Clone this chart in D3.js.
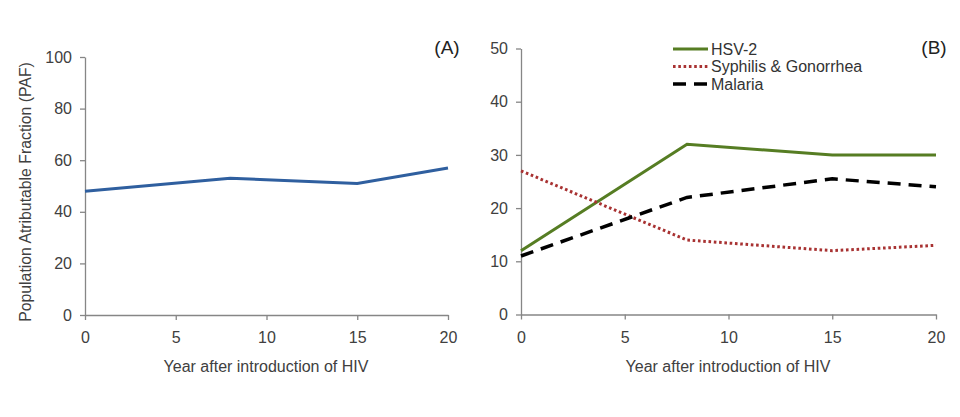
<!DOCTYPE html>
<html><head><meta charset="utf-8">
<script src="https://cdn.jsdelivr.net/npm/d3@7"></script>
<style>
body{margin:0;background:#fff;}
text{font-family:"Liberation Sans",Arial,sans-serif;}
</style></head>
<body><svg id="c" width="960" height="417"></svg>
<script>
const years = [0, 8, 15, 20];
const pafA = [48, 53, 51, 57];
const hsv2 = [12, 32, 30, 30];
const syphGon = [27, 14, 12, 13];
const malaria = [11, 22, 25.5, 24];
const xTicks = [0, 5, 10, 15, 20];
const yTicksA = [0, 20, 40, 60, 80, 100];
const yTicksB = [0, 10, 20, 30, 40, 50];
const seriesNames = ["HSV-2", "Syphilis & Gonorrhea", "Malaria"];

const svg = d3.select("#c");
const axisColor = "#868686", textColor = "#404040";

function panel(x0, x1, yTop, yBot, yMax, yTicks) {
  const x = d3.scaleLinear().domain([0, 20]).range([x0, x1]);
  const y = d3.scaleLinear().domain([0, yMax]).range([yBot, yTop]);
  const gx = svg.append("g").attr("transform", `translate(0,${yBot})`)
    .call(d3.axisBottom(x).tickValues(xTicks).tickSize(5).tickSizeOuter(0).tickPadding(12));
  const gy = svg.append("g").attr("transform", `translate(${x0},0)`)
    .call(d3.axisLeft(y).tickValues(yTicks).tickSize(5).tickSizeOuter(0).tickPadding(8));
  [gx, gy].forEach(g => {
    g.selectAll("path,line").attr("stroke", axisColor).attr("stroke-width", 1.3);
    g.selectAll("text").attr("fill", textColor).style("font-size", "16px");
  });
  return {x, y};
}

// Panel A
const A = panel(85, 448, 57, 315, 100, yTicksA);
svg.append("path").datum(years.map((d, i) => [d, pafA[i]]))
  .attr("fill", "none").attr("stroke", "#2F5F9F").attr("stroke-width", 3)
  .attr("d", d3.line().x(d => A.x(d[0])).y(d => A.y(d[1])));
svg.append("text").attr("x", 266).attr("y", 372).attr("text-anchor", "middle")
  .attr("fill", textColor).style("font-size", "16px").text("Year after introduction of HIV");
svg.append("text").attr("transform", "translate(31,192) rotate(-90)").attr("text-anchor", "middle")
  .attr("fill", textColor).style("font-size", "15.8px").text("Population Atributable Fraction (PAF)");
svg.append("text").attr("x", 447).attr("y", 54).attr("text-anchor", "middle")
  .attr("fill", "#222").style("font-size", "19px").text("(A)");

// Panel B
const B = panel(521, 936, 48.5, 314.5, 50, yTicksB);
const styles = [
  {data: hsv2, color: "#567D23", w: 3, dash: null},
  {data: syphGon, color: "#A83232", w: 3, dash: "2.6,2.7"},
  {data: malaria, color: "#000", w: 3.5, dash: "13,8"}
];
styles.forEach(s => {
  svg.append("path").datum(years.map((d, i) => [d, s.data[i]]))
    .attr("fill", "none").attr("stroke", s.color).attr("stroke-width", s.w)
    .attr("stroke-dasharray", s.dash)
    .attr("d", d3.line().x(d => B.x(d[0])).y(d => B.y(d[1])));
});
svg.append("text").attr("x", 728).attr("y", 372).attr("text-anchor", "middle")
  .attr("fill", textColor).style("font-size", "16px").text("Year after introduction of HIV");
svg.append("text").attr("x", 934).attr("y", 54).attr("text-anchor", "middle")
  .attr("fill", "#222").style("font-size", "19px").text("(B)");

// Legend
const legY = [49, 66.5, 84];
styles.forEach((s, i) => {
  svg.append("line").attr("x1", 673).attr("x2", 708).attr("y1", legY[i]).attr("y2", legY[i])
    .attr("stroke", s.color).attr("stroke-width", s.w).attr("stroke-dasharray", s.dash);
  svg.append("text").attr("x", 711).attr("y", legY[i] + 5.5).attr("fill", "#333")
    .style("font-size", "16px").text(seriesNames[i]);
});
</script></body></html>
